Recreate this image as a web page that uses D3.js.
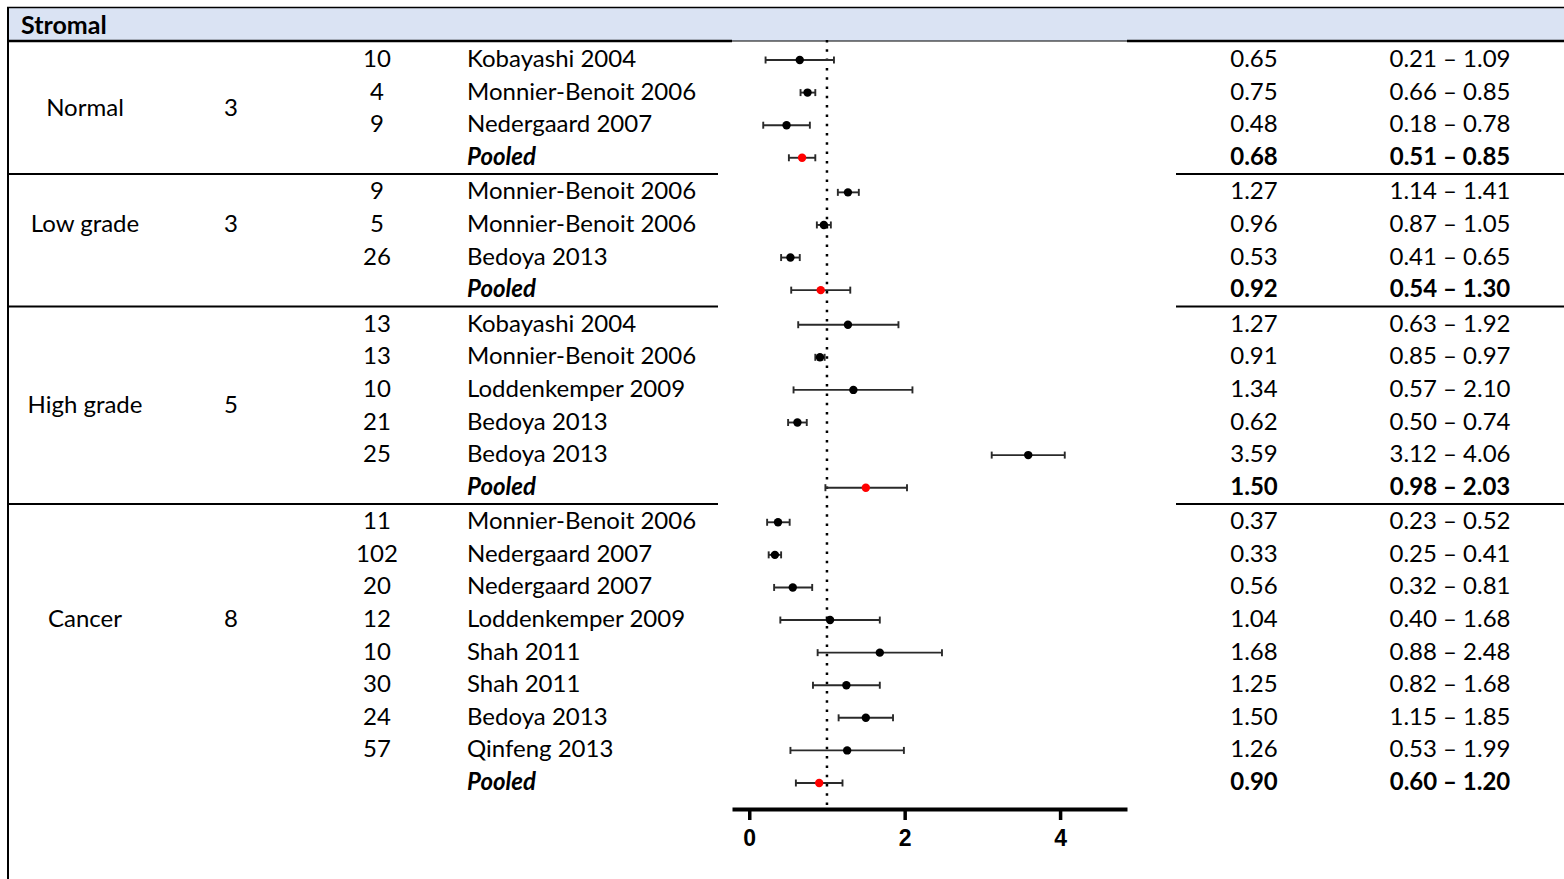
<!DOCTYPE html>
<meta charset="utf-8">
<style>
body { margin: 0; background: #fff; }
svg text { font-family: Lato, "Open Sans", sans-serif; fill: #000; }
.axis text { font-family: "Liberation Sans", Arial, sans-serif; font-weight: bold; font-size: 23px; }
</style>
<svg width="1564" height="879"></svg>
<script src="https://cdn.jsdelivr.net/npm/d3@7"></script>
<script>
// data, one entry per table row
var groups = ["Normal", "Low grade", "High grade", "Cancer"];
var groupStudies = [3, 3, 5, 8];
var rowGroup = [0, 0, 0, 0, 1, 1, 1, 1, 2, 2, 2, 2, 2, 2, 3, 3, 3, 3, 3, 3, 3, 3, 3];
var sampleN = [10, 4, 9, null, 9, 5, 26, null, 13, 13, 10, 21, 25, null,
               11, 102, 20, 12, 10, 30, 24, 57, null];
var studies = ["Kobayashi 2004", "Monnier-Benoit 2006", "Nedergaard 2007", "Pooled",
               "Monnier-Benoit 2006", "Monnier-Benoit 2006", "Bedoya 2013", "Pooled",
               "Kobayashi 2004", "Monnier-Benoit 2006", "Loddenkemper 2009", "Bedoya 2013", "Bedoya 2013", "Pooled",
               "Monnier-Benoit 2006", "Nedergaard 2007", "Nedergaard 2007", "Loddenkemper 2009",
               "Shah 2011", "Shah 2011", "Bedoya 2013", "Qinfeng 2013", "Pooled"];
var estimates = [0.65, 0.75, 0.48, 0.68, 1.27, 0.96, 0.53, 0.92,
                 1.27, 0.91, 1.34, 0.62, 3.59, 1.50,
                 0.37, 0.33, 0.56, 1.04, 1.68, 1.25, 1.50, 1.26, 0.90];
var ciLow = [0.21, 0.66, 0.18, 0.51, 1.14, 0.87, 0.41, 0.54,
             0.63, 0.85, 0.57, 0.50, 3.12, 0.98,
             0.23, 0.25, 0.32, 0.40, 0.88, 0.82, 1.15, 0.53, 0.60];
var ciHigh = [1.09, 0.85, 0.78, 0.85, 1.41, 1.05, 0.65, 1.30,
              1.92, 0.97, 2.10, 0.74, 4.06, 2.03,
              0.52, 0.41, 0.81, 1.68, 2.48, 1.68, 1.85, 1.99, 1.20];
var xTicks = [0, 2, 4];
var refValue = 1;

// layout
var labelRowOffset = [1.5, 1, 2.5, 3];
var colGroup = 85, colCount = 231, colN = 377, colStudy = 467, colEst = 1254, colCI = 1450;
var fs = 24, textShift = -1.5;

var rows = studies.map(function(s, i) {
  return { i: i, g: rowGroup[i], n: sampleN[i], study: s, est: estimates[i],
           lo: ciLow[i], hi: ciHigh[i], pooled: s === "Pooled" };
});

var svg = d3.select("svg");
var yRow = d3.scaleLinear().domain([0, rows.length - 1]).range([59, 776]);
function y(i) { return yRow(i) + rowGroup[i] * 2; }
var x = d3.scaleLinear().domain([-0.222, 4.861]).range([732, 1127]);

// header band
svg.append("rect").attr("x", 7).attr("y", 7).attr("width", 1557).attr("height", 34)
  .attr("fill", "#dae3f3");
svg.append("line").attr("x1", 7).attr("x2", 1564).attr("y1", 7.5).attr("y2", 7.5)
  .attr("stroke", "#000").attr("stroke-width", 1.5);
svg.append("line").attr("x1", 7).attr("x2", x.range()[0]).attr("y1", 41).attr("y2", 41)
  .attr("stroke", "#000").attr("stroke-width", 2.5);
svg.append("line").attr("x1", x.range()[0]).attr("x2", x.range()[1]).attr("y1", 41).attr("y2", 41)
  .attr("stroke", "#000").attr("stroke-width", 1.2);
svg.append("line").attr("x1", x.range()[1]).attr("x2", 1564).attr("y1", 41).attr("y2", 41)
  .attr("stroke", "#000").attr("stroke-width", 2.5);
svg.append("line").attr("x1", 8).attr("x2", 8).attr("y1", 7).attr("y2", 879)
  .attr("stroke", "#000").attr("stroke-width", 2);
svg.append("text").attr("x", 21).attr("y", 24).attr("dominant-baseline", "central")
  .attr("font-size", 25).attr("font-weight", "bold").text("Stromal");

// separators between groups
var lastRows = groups.map(function(g, gi) { return d3.max(rows.filter(function(r) { return r.g === gi; }), function(r) { return r.i; }); });
lastRows.slice(0, -1).forEach(function(li) {
  var yy = (y(li) + y(li + 1)) / 2;
  svg.append("line").attr("x1", 7).attr("x2", 718).attr("y1", yy).attr("y2", yy)
    .attr("stroke", "#000").attr("stroke-width", 2);
  svg.append("line").attr("x1", 1176).attr("x2", 1564).attr("y1", yy).attr("y2", yy)
    .attr("stroke", "#000").attr("stroke-width", 2);
});

// group labels and counts
var firstRows = groups.map(function(g, gi) { return rowGroup.indexOf(gi); });
groups.forEach(function(g, gi) {
  var yy = yRow(firstRows[gi] + labelRowOffset[gi]) + gi * 2 + textShift;
  svg.append("text").attr("x", colGroup).attr("y", yy).attr("text-anchor", "middle")
    .attr("dominant-baseline", "central").attr("font-size", fs).text(g);
  svg.append("text").attr("x", colCount).attr("y", yy).attr("text-anchor", "middle")
    .attr("dominant-baseline", "central").attr("font-size", fs).text(groupStudies[gi]);
});

// table text per row
var rowG = svg.selectAll(".row").data(rows).enter().append("g").attr("class", "row")
  .attr("transform", function(d) { return "translate(0," + (y(d.i) + textShift) + ")"; });
rowG.append("text").attr("x", colN)
  .attr("text-anchor", "middle").attr("dominant-baseline", "central").attr("font-size", fs)
  .text(function(d) { return d.n === null ? "" : d.n; });
rowG.append("text").attr("x", colStudy)
  .attr("dominant-baseline", "central").attr("font-size", fs)
  .attr("font-weight", function(d) { return d.pooled ? "bold" : "normal"; })
  .attr("font-style", function(d) { return d.pooled ? "italic" : "normal"; })
  .text(function(d) { return d.study; });
rowG.append("text").attr("x", colEst)
  .attr("text-anchor", "middle").attr("dominant-baseline", "central").attr("font-size", fs)
  .attr("font-weight", function(d) { return d.pooled ? "bold" : "normal"; })
  .text(function(d) { return d.est.toFixed(2); });
rowG.append("text").attr("x", colCI)
  .attr("text-anchor", "middle").attr("dominant-baseline", "central").attr("font-size", fs)
  .attr("font-weight", function(d) { return d.pooled ? "bold" : "normal"; })
  .text(function(d) { return d.lo.toFixed(2) + " \u2013 " + d.hi.toFixed(2); });

// reference line
svg.append("line").attr("x1", x(refValue)).attr("x2", x(refValue)).attr("y1", 40).attr("y2", 808)
  .attr("stroke", "#000").attr("stroke-width", 2.5).attr("stroke-dasharray", "2.5 6.8");

// error bars
var marks = svg.selectAll(".mark").data(rows).enter().append("g").attr("class", "mark")
  .attr("transform", function(d) { return "translate(0," + (y(d.i) + 1) + ")"; });
marks.append("line").attr("x1", function(d) { return x(d.lo); }).attr("x2", function(d) { return x(d.hi); })
  .attr("stroke", "#2a2a2a").attr("stroke-width", 1.9);
marks.append("line").attr("x1", function(d) { return x(d.lo); }).attr("x2", function(d) { return x(d.lo); })
  .attr("y1", -3.5).attr("y2", 3.5).attr("stroke", "#2a2a2a").attr("stroke-width", 1.9);
marks.append("line").attr("x1", function(d) { return x(d.hi); }).attr("x2", function(d) { return x(d.hi); })
  .attr("y1", -3.5).attr("y2", 3.5).attr("stroke", "#2a2a2a").attr("stroke-width", 1.9);
marks.append("circle").attr("cx", function(d) { return x(d.est); }).attr("r", 4.2)
  .attr("fill", function(d) { return d.pooled ? "#ff0000" : "#000"; });

// axis
var axis = svg.append("g").attr("class", "axis").attr("transform", "translate(0,809)")
  .call(d3.axisBottom(x).tickValues(xTicks).tickFormat(d3.format("d"))
    .tickSize(11).tickSizeOuter(0).tickPadding(10));
axis.select(".domain").attr("stroke", "#000").attr("stroke-width", 4);
axis.selectAll(".tick line").attr("stroke", "#000").attr("stroke-width", 3.5);
axis.selectAll(".tick text").attr("fill", "#000");
</script>
